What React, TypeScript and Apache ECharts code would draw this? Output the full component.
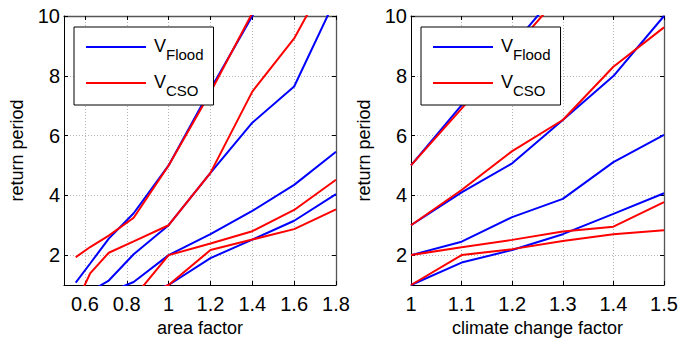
import React, { useEffect, useRef } from 'react';
import * as echarts from 'echarts';

// ---- data: left panel (area factor) ----
const areaFactor = [0.556, 0.625, 0.714, 0.833, 1, 1.2, 1.4, 1.6, 1.8];
const areaFloodT5 = [1.08, 1.72, 2.55, 3.4, 5.0, 7.55, 10.0, 12.5, 15.0];
const areaCsoT5 = [1.93, 2.27, 2.65, 3.25, 5.0, 7.45, 10.1, 12.7, 15.3];
const areaFloodT3 = [0.45, 0.78, 1.15, 2.03, 3.0, 4.75, 6.43, 7.64, 10.6];
const areaCsoT3 = [0.35, 1.39, 2.08, 2.46, 3.0, 4.75, 7.47, 9.25, 11.8];
const areaFloodT2 = [0.4, 0.55, 0.76, 1.1, 2.0, 2.7, 3.48, 4.35, 5.46];
const areaCsoT2 = [0.3, 0.4, 0.5, 0.58, 2.0, 2.39, 2.8, 3.51, 4.52];
const areaFloodT1 = [0.2, 0.3, 0.4, 0.6, 1.0, 1.9, 2.52, 3.15, 4.04];
const areaCsoT1 = [0.2, 0.3, 0.4, 0.5, 1.0, 2.17, 2.52, 2.87, 3.53];

// ---- data: right panel (climate change factor) ----
const climateFactor = [1, 1.1, 1.2, 1.3, 1.4, 1.5];
const ccFloodT5 = [5, 7.02, 9.0, 11.0, 13.0, 15.0];
const ccCsoT5 = [5, 6.9, 8.85, 10.8, 12.8, 14.8];
const ccFloodT3 = [3, 4.1, 5.07, 6.52, 7.99, 10.0];
const ccCsoT3 = [3, 4.18, 5.48, 6.52, 8.3, 9.62];
const ccFloodT2 = [2, 2.45, 3.27, 3.88, 5.11, 6.02];
const ccCsoT2 = [2, 2.26, 2.51, 2.79, 2.95, 3.77];
const ccFloodT1 = [1, 1.75, 2.17, 2.7, 3.38, 4.07];
const ccCsoT1 = [1, 2.0, 2.2, 2.47, 2.7, 2.83];

const legendNames = ['VFlood', 'VCSO'];
const legendSubs: Record<string, string> = { VFlood: 'Flood', VCSO: 'CSO' };

const FONT = "'Liberation Sans', Arial, Helvetica, sans-serif";
const BLUE = '#0000ff';
const RED = '#ff0000';

function pairs(xs: number[], ys: number[]) {
  return xs.map((x, i) => [x, ys[i]]);
}

function mkSeries(name: string, color: string, xs: number[], ys: number[], axis: number) {
  return {
    type: 'line',
    name,
    xAxisIndex: axis,
    yAxisIndex: axis,
    data: pairs(xs, ys),
    symbol: 'none',
    color,
    lineStyle: { color, width: 2 },
    clip: true,
    animation: false,
  };
}

const tick = { show: true, inside: true, length: 4, lineStyle: { color: '#000', width: 1 } };
const split = { show: true, lineStyle: { type: [1, 2], color: '#b4b4b4', width: 1 } };
const labelStyle = { fontSize: 20, color: '#000', fontFamily: FONT };
const nameStyle = { fontSize: 18, color: '#000', fontFamily: FONT };

function xAxesFor(gridIndex: number, name: string, range: any, hideMin: boolean) {
  return [
    {
      type: 'value', gridIndex, ...range, position: 'bottom',
      name, nameLocation: 'middle', nameGap: 33, nameTextStyle: nameStyle,
      axisLine: { show: true, onZero: false, lineStyle: { color: '#000', width: 1 } },
      axisTick: tick,
      axisLabel: { ...labelStyle, margin: 9, showMinLabel: !hideMin },
      splitLine: split,
    },
    {
      type: 'value', gridIndex, ...range, position: 'top',
      axisLine: { show: true, onZero: false, lineStyle: { color: '#555', width: 1.3 } },
      axisTick: tick,
      axisLabel: { show: false },
      splitLine: { show: false },
    },
  ];
}

function yAxesFor(gridIndex: number) {
  const range = { min: 1, max: 10, splitNumber: 5 };
  return [
    {
      type: 'value', gridIndex, ...range, position: 'left',
      name: 'return period', nameLocation: 'middle', nameGap: 38, nameTextStyle: nameStyle,
      axisLine: { show: true, onZero: false, lineStyle: { color: '#000', width: 1 } },
      axisTick: tick,
      axisLabel: { ...labelStyle, margin: 4, showMinLabel: false },
      splitLine: split,
    },
    {
      type: 'value', gridIndex, ...range, position: 'right',
      axisLine: { show: true, onZero: false, lineStyle: { color: '#555', width: 1.3 } },
      axisTick: tick,
      axisLabel: { show: false },
      splitLine: { show: false },
    },
  ];
}

function legendAt(left: number) {
  return {
    left,
    top: 27,
    orient: 'vertical',
    padding: [7, 10, 7, 12],
    icon: 'rect',
    itemWidth: 60,
    itemHeight: 2,
    itemGap: 8,
    borderColor: '#000',
    borderWidth: 1,
    borderRadius: 0,
    backgroundColor: '#fff',
    selectedMode: false,
    data: legendNames,
    formatter: (n: string) => `{v|V}{s|${legendSubs[n]}}`,
    textStyle: {
      color: '#000',
      fontFamily: FONT,
      rich: {
        v: { fontSize: 18, fontFamily: FONT, color: '#000', height: 23, lineHeight: 26, verticalAlign: 'top', padding: [0, 0, 0, 3] },
        s: { fontSize: 15, fontFamily: FONT, color: '#000', height: 11, lineHeight: 26, verticalAlign: 'bottom' },
      },
    },
  };
}

export default function App() {
  const ref = useRef<HTMLDivElement>(null);
  useEffect(() => {
    if (!ref.current) return;
    const chart = echarts.init(ref.current, undefined, { renderer: 'svg' });
    const leftFlood = [areaFloodT5, areaFloodT3, areaFloodT2, areaFloodT1];
    const leftCso = [areaCsoT5, areaCsoT3, areaCsoT2, areaCsoT1];
    const rightFlood = [ccFloodT5, ccFloodT3, ccFloodT2, ccFloodT1];
    const rightCso = [ccCsoT5, ccCsoT3, ccCsoT2, ccCsoT1];
    const series = [
      ...leftFlood.map((ys) => mkSeries('VFlood', BLUE, areaFactor, ys, 0)),
      ...leftCso.map((ys) => mkSeries('VCSO', RED, areaFactor, ys, 0)),
      ...rightFlood.map((ys) => mkSeries('VFlood', BLUE, climateFactor, ys, 2)),
      ...rightCso.map((ys) => mkSeries('VCSO', RED, climateFactor, ys, 2)),
    ];
    chart.setOption({
      animation: false,
      textStyle: { fontFamily: FONT },
      grid: [
        { left: 64, top: 16, width: 272, height: 269, show: false, containLabel: false, outerBoundsMode: 'none' },
        { left: 411, top: 16, width: 253, height: 269, show: false, containLabel: false, outerBoundsMode: 'none' },
      ],
      xAxis: [
        ...xAxesFor(0, 'area factor', { min: 0.5, max: 1.8, splitNumber: 6 }, true),
        ...xAxesFor(1, 'climate change factor', { min: 1, max: 1.5, interval: 0.1 }, false),
      ],
      yAxis: [...yAxesFor(0), ...yAxesFor(1)],
      legend: [legendAt(74), legendAt(421)],
      series,
    });
    return () => chart.dispose();
  }, []);
  return (
    <div
      ref={ref}
      style={{ position: 'fixed', left: 0, top: 0, width: 678, height: 338, background: '#fff' }}
    />
  );
}
